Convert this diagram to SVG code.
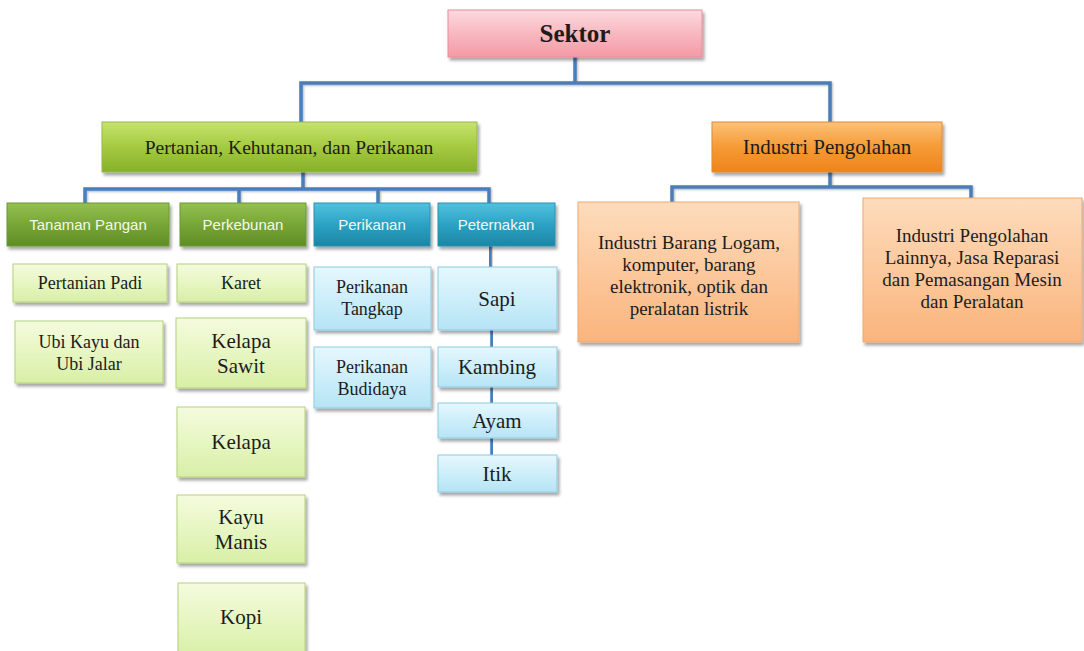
<svg xmlns="http://www.w3.org/2000/svg" width="1084" height="651" viewBox="0 0 1084 651">
<defs>
<linearGradient id="gPink" x1="0" y1="0" x2="0" y2="1"><stop offset="0" stop-color="#fcdade"/><stop offset="0.5" stop-color="#f8b8c0"/><stop offset="1" stop-color="#f39aa6"/></linearGradient>
<linearGradient id="gGreenH" x1="0" y1="0" x2="0" y2="1"><stop offset="0" stop-color="#c6e36e"/><stop offset="0.5" stop-color="#a4ca40"/><stop offset="1" stop-color="#86b02a"/></linearGradient>
<linearGradient id="gOrangeH" x1="0" y1="0" x2="0" y2="1"><stop offset="0" stop-color="#fcc27a"/><stop offset="0.5" stop-color="#f69a34"/><stop offset="1" stop-color="#ee841c"/></linearGradient>
<linearGradient id="gDkGreen" x1="0" y1="0" x2="0" y2="1"><stop offset="0" stop-color="#95c052"/><stop offset="0.5" stop-color="#77a636"/><stop offset="1" stop-color="#5f8d24"/></linearGradient>
<linearGradient id="gTeal" x1="0" y1="0" x2="0" y2="1"><stop offset="0" stop-color="#52c2de"/><stop offset="0.5" stop-color="#2ca2c4"/><stop offset="1" stop-color="#1b86a6"/></linearGradient>
<linearGradient id="gLtGreen" x1="0" y1="0" x2="0" y2="1"><stop offset="0" stop-color="#f4fbde"/><stop offset="0.5" stop-color="#e7f6c2"/><stop offset="1" stop-color="#d8efa6"/></linearGradient>
<linearGradient id="gLtBlue" x1="0" y1="0" x2="0" y2="1"><stop offset="0" stop-color="#e6f7fd"/><stop offset="0.5" stop-color="#cdeefa"/><stop offset="1" stop-color="#b6e4f5"/></linearGradient>
<linearGradient id="gLtOrange" x1="0" y1="0" x2="0" y2="1"><stop offset="0" stop-color="#fddcbc"/><stop offset="0.5" stop-color="#fcc89c"/><stop offset="1" stop-color="#fab47c"/></linearGradient>
<filter id="sh" x="-10%" y="-10%" width="125%" height="135%"><feDropShadow dx="2" dy="3" stdDeviation="1.8" flood-color="#000" flood-opacity="0.35"/></filter>
<filter id="lsh" x="-10%" y="-10%" width="130%" height="130%"><feDropShadow dx="1" dy="1" stdDeviation="0.8" flood-color="#000" flood-opacity="0.3"/></filter>
</defs>
<style>
.pink{fill:url(#gPink);stroke:#e88c98;stroke-width:1;filter:url(#sh)}
.gh{fill:url(#gGreenH);stroke:#93b94a;stroke-width:1;filter:url(#sh)}
.oh{fill:url(#gOrangeH);stroke:#e08a3a;stroke-width:1;filter:url(#sh)}
.dg{fill:url(#gDkGreen);stroke:#6b9a30;stroke-width:1;filter:url(#sh)}
.tl{fill:url(#gTeal);stroke:#2a90b0;stroke-width:1;filter:url(#sh)}
.lg{fill:url(#gLtGreen);stroke:#b4d07e;stroke-width:1;filter:url(#sh)}
.lb{fill:url(#gLtBlue);stroke:#8ccbe2;stroke-width:1;filter:url(#sh)}
.lo{fill:url(#gLtOrange);stroke:#f0a870;stroke-width:1;filter:url(#sh)}
text{font-family:"Liberation Serif","Times New Roman",serif;fill:#1c1c1c;text-anchor:middle}
.sans{font-family:"Liberation Sans",Arial,sans-serif;fill:#f4f9ec;font-size:15px}
.s18{font-size:18px}
.s21{font-size:21px}
.s19{font-size:19px}
.conn{fill:none;stroke:#4a7ebb;stroke-width:3.5;stroke-linecap:square;filter:url(#lsh)}
</style>
<rect width="1084" height="651" fill="#ffffff"/>
<g id="connectors">
<path class="conn" d="M575 57V83M301 83H830M301 83V122M830 83V122"/>
<path class="conn" d="M303 172V189M85 189H489M85 189V203M239 189V203M378 189V203M489 189V203"/>
<path class="conn" d="M830 172V187M672 187H971M672 187V202M971 187V198"/>
<path class="conn" d="M86 246V264M86 302V321"/>
<path class="conn" d="M243 246V264M243 302V318M243 388V407M243 477V495M243 563V583"/>
<path class="conn" d="M378 246V267M378 330V347"/>
<path class="conn" d="M490 246V267M492 330V347M492 387V403M492 438V455"/>
</g>
<g id="sektor"><rect class="pink" x="448" y="10" width="254" height="47"/><text x="575" y="42" style="font-size:25px;font-weight:bold">Sektor</text></g>
<g id="pertanian"><rect class="gh" x="102" y="122" width="375" height="50"/><text x="289" y="154" style="font-size:19.5px">Pertanian, Kehutanan, dan Perikanan</text></g>
<g id="industri"><rect class="oh" x="712" y="122" width="230" height="50"/><text x="827" y="154" class="s21">Industri Pengolahan</text></g>
<g id="tanaman-pangan"><rect class="dg" x="7" y="203" width="162" height="43"/><text x="88" y="230" class="sans">Tanaman Pangan</text></g>
<g id="perkebunan"><rect class="dg" x="180" y="203" width="126" height="43"/><text x="243" y="230" class="sans">Perkebunan</text></g>
<g id="perikanan"><rect class="tl" x="314" y="203" width="116" height="43"/><text x="372" y="230" class="sans">Perikanan</text></g>
<g id="peternakan"><rect class="tl" x="438" y="203" width="117" height="43"/><text x="496" y="230" class="sans">Peternakan</text></g>
<g id="pertanian-padi"><rect class="lg" x="13" y="264" width="154" height="38"/><text x="90" y="289" class="s18">Pertanian Padi</text></g>
<g id="ubi"><rect class="lg" x="15" y="321" width="148" height="62"/><text x="89" y="348" class="s18">Ubi Kayu dan</text><text x="89" y="370" class="s18">Ubi Jalar</text></g>
<g id="karet"><rect class="lg" x="177" y="264" width="129" height="38"/><text x="241" y="289" class="s18">Karet</text></g>
<g id="kelapa-sawit"><rect class="lg" x="176" y="318" width="130" height="70"/><text x="241" y="348" class="s21">Kelapa</text><text x="241" y="373" class="s21">Sawit</text></g>
<g id="kelapa"><rect class="lg" x="177" y="407" width="128" height="70"/><text x="241" y="449" class="s21">Kelapa</text></g>
<g id="kayu-manis"><rect class="lg" x="177" y="495" width="128" height="68"/><text x="241" y="524" class="s21">Kayu</text><text x="241" y="549" class="s21">Manis</text></g>
<g id="kopi"><rect class="lg" x="178" y="583" width="127" height="74"/><text x="241" y="624" class="s21">Kopi</text></g>
<g id="perikanan-tangkap"><rect class="lb" x="314" y="267" width="117" height="63"/><text x="372" y="293" class="s18">Perikanan</text><text x="372" y="315" class="s18">Tangkap</text></g>
<g id="perikanan-budidaya"><rect class="lb" x="314" y="347" width="117" height="61"/><text x="372" y="373" class="s18">Perikanan</text><text x="372" y="395" class="s18">Budidaya</text></g>
<g id="sapi"><rect class="lb" x="438" y="267" width="119" height="63"/><text x="497" y="306" class="s21">Sapi</text></g>
<g id="kambing"><rect class="lb" x="438" y="347" width="119" height="40"/><text x="497" y="374" class="s21">Kambing</text></g>
<g id="ayam"><rect class="lb" x="438" y="403" width="119" height="35"/><text x="497" y="428" class="s21">Ayam</text></g>
<g id="itik"><rect class="lb" x="438" y="455" width="119" height="37"/><text x="497" y="481" class="s21">Itik</text></g>
<g id="industri-logam"><rect class="lo" x="578" y="202" width="221" height="140"/><text x="689" y="249" class="s19">Industri Barang Logam,</text><text x="689" y="271" class="s19">komputer, barang</text><text x="689" y="293" class="s19">elektronik, optik dan</text><text x="689" y="315" class="s19">peralatan listrik</text></g>
<g id="industri-lainnya"><rect class="lo" x="863" y="198" width="219" height="144"/><text x="972" y="242" class="s19">Industri Pengolahan</text><text x="972" y="264" class="s19">Lainnya, Jasa Reparasi</text><text x="972" y="286" class="s19">dan Pemasangan Mesin</text><text x="972" y="308" class="s19">dan Peralatan</text></g>
</svg>
